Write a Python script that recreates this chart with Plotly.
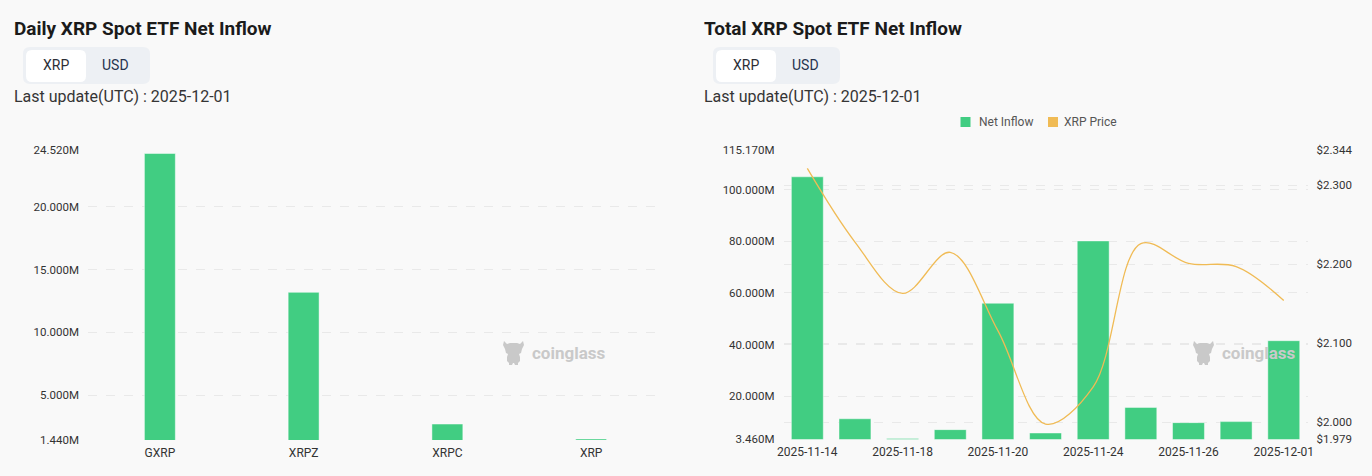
import plotly.graph_objects as go

W, H = 1372, 476

# ---------------- data ----------------
daily_etfs = ["GXRP", "XRPZ", "XRPC", "XRP"]
daily_inflow_m = [24.26, 13.19, 2.69, 1.50]
daily_ytick_vals = [1.44, 5, 10, 15, 20, 24.52]
daily_ytick_text = ["1.440M", "5.000M", "10.000M", "15.000M", "20.000M", "24.520M"]

total_dates = ["2025-11-14", "2025-11-17", "2025-11-18", "2025-11-19", "2025-11-20",
               "2025-11-21", "2025-11-24", "2025-11-25", "2025-11-26", "2025-11-28",
               "2025-12-01"]
total_inflow_m = [104.9, 11.3, 3.7, 7.1, 56.0, 5.8, 80.1, 15.7, 9.8, 10.2, 41.5]
xrp_price = [2.321, 2.228, 2.163, 2.215, 2.116, 1.998, 2.045, 2.226, 2.201, 2.197, 2.154]
total_xtick_dates = ["2025-11-14", "2025-11-18", "2025-11-20", "2025-11-24",
                     "2025-11-26", "2025-12-01"]
total_ytick_vals = [3.46, 20, 40, 60, 80, 100, 115.17]
total_ytick_text = ["3.460M", "20.000M", "40.000M", "60.000M", "80.000M", "100.000M", "115.170M"]
price_tick_vals = [1.979, 2.0, 2.1, 2.2, 2.3, 2.344]
price_tick_text = ["$1.979", "$2.000", "$2.100", "$2.200", "$2.300", "$2.344"]

titles = ["Daily XRP Spot ETF Net Inflow", "Total XRP Spot ETF Net Inflow"]
update_text = "Last update(UTC) : 2025-12-01"
unit_buttons = ["XRP", "USD"]
legend_names = ["Net Inflow", "XRP Price"]

# ---------------- style ----------------
BG = "#f9f9f9"
GREEN = "#41cd82"
GREEN_EDGE = "rgba(255,255,255,0.45)"
YELLOW = "#f0bb55"
GRID = "#e9e9e9"
TICK = "#333333"
FONT = "Roboto"


def px(x):
    return x / W


def py(y):
    return 1 - y / H


def rrect(x0, y0, x1, y1, r):
    """rounded rectangle path in paper coordinates from pixel coords"""
    pts = [
        f"M{px(x0 + r)},{py(y0)}",
        f"L{px(x1 - r)},{py(y0)}",
        f"Q{px(x1)},{py(y0)} {px(x1)},{py(y0 + r)}",
        f"L{px(x1)},{py(y1 - r)}",
        f"Q{px(x1)},{py(y1)} {px(x1 - r)},{py(y1)}",
        f"L{px(x0 + r)},{py(y1)}",
        f"Q{px(x0)},{py(y1)} {px(x0)},{py(y1 - r)}",
        f"L{px(x0)},{py(y0 + r)}",
        f"Q{px(x0)},{py(y0)} {px(x0 + r)},{py(y0)}",
        "Z",
    ]
    return " ".join(pts)


def mascot(x0, y0):
    rel = [(1, 0), (4, 3), (7, 2), (14, 2), (17, 3), (20, 0), (21, 4), (19, 8),
           (18, 12), (16, 13), (17, 16), (17, 20), (15, 22), (15, 24), (12, 24),
           (11, 22), (10, 22), (9, 24), (6, 24), (6, 22), (4, 20), (4, 16),
           (5, 13), (3, 12), (2, 8), (0, 4)]
    s = "M" + " L".join(f"{px(x0 + a)},{py(y0 + b)}" for a, b in rel) + " Z"
    return s


fig = go.Figure()

fig.add_trace(go.Bar(
    x=daily_etfs, y=daily_inflow_m, width=0.215,
    marker=dict(color=GREEN, line=dict(color=GREEN_EDGE, width=1)),
    xaxis="x", yaxis="y", showlegend=False,
))
fig.add_trace(go.Bar(
    x=total_dates, y=total_inflow_m, width=0.67,
    marker=dict(color=GREEN, line=dict(color=GREEN_EDGE, width=1)),
    xaxis="x2", yaxis="y2", showlegend=False,
))
fig.add_trace(go.Scatter(
    x=total_dates, y=xrp_price, mode="lines",
    line=dict(color=YELLOW, width=1.3, shape="spline", smoothing=1.0),
    xaxis="x2", yaxis="y3", showlegend=False,
))

tickfont = dict(family=FONT, size=11.5, color=TICK)
xtickfont = dict(family=FONT, size=12, color=TICK)

common_y = dict(showgrid=True, gridcolor=GRID, griddash="dash", gridwidth=1,
                zeroline=False, showline=False, ticks="", tickfont=tickfont,
                ticklabelstandoff=8, tickmode="array", automargin=False)
common_x = dict(type="category", showgrid=False, zeroline=False, showline=False,
                ticks="", tickfont=xtickfont, ticklabelstandoff=4, automargin=False)

fig.update_layout(
    width=W, height=H,
    margin=dict(l=0, r=0, t=0, b=0, autoexpand=False),
    paper_bgcolor=BG, plot_bgcolor=BG,
    font=dict(family=FONT, color=TICK),
    showlegend=False,
    xaxis=dict(domain=[px(88), px(663)], anchor="y", **common_x),
    yaxis=dict(domain=[py(440), py(150)], anchor="x",
               range=[1.44 - 0.02, 24.52 + 0.02],
               tickvals=daily_ytick_vals, ticktext=daily_ytick_text, **common_y),
    xaxis2=dict(domain=[px(783.5), px(1307.6)], anchor="y2",
                tickmode="array", tickvals=total_xtick_dates, ticktext=total_xtick_dates,
                **common_x),
    yaxis2=dict(domain=[py(439.3), py(150)], anchor="x2",
                range=[3.46 - 0.1, 115.17 + 0.1],
                tickvals=total_ytick_vals, ticktext=total_ytick_text, **common_y),
    yaxis3=dict(overlaying="y2", anchor="x2", side="right",
                range=[1.979 - 0.0003, 2.344 + 0.0003],
                tickvals=price_tick_vals, ticktext=price_tick_text, **common_y),
)

shapes = []
annotations = []

for i, off in enumerate([0, 690]):
    # title
    annotations.append(dict(
        x=px(12 + off), y=py(28), xref="paper", yref="paper",
        xanchor="left", yanchor="middle", showarrow=False,
        text=f"<b>{titles[i]}</b>",
        font=dict(family=FONT, size=19, color="#1b1b1b"),
    ))
    # unit toggle
    shapes.append(dict(type="path", xref="paper", yref="paper",
                       path=rrect(23 + off, 47, 150 + off, 84, 7),
                       fillcolor="#edf0f4", line=dict(width=0), layer="above"))
    shapes.append(dict(type="path", xref="paper", yref="paper",
                       path=rrect(26 + off, 50, 86 + off, 82, 6),
                       fillcolor="#ffffff", line=dict(width=0), layer="above"))
    annotations.append(dict(
        x=px(56 + off), y=py(65), xref="paper", yref="paper",
        xanchor="center", yanchor="middle", showarrow=False,
        text=unit_buttons[0], font=dict(family=FONT, size=14, color="#2c2f36"),
    ))
    annotations.append(dict(
        x=px(116 + off), y=py(65), xref="paper", yref="paper",
        xanchor="center", yanchor="middle", showarrow=False,
        text=unit_buttons[1], font=dict(family=FONT, size=14, color="#26344f"),
    ))
    # last update
    annotations.append(dict(
        x=px(12 + off), y=py(97), xref="paper", yref="paper",
        xanchor="left", yanchor="middle", showarrow=False,
        text=update_text, font=dict(family=FONT, size=16, color="#353535"),
    ))
    # watermark
    shapes.append(dict(type="path", xref="paper", yref="paper",
                       path=mascot(503 + off, 341), fillcolor="#c9c9c9",
                       line=dict(width=0), layer="above"))
    annotations.append(dict(
        x=px(530 + off), y=py(353), xref="paper", yref="paper",
        xanchor="left", yanchor="middle", showarrow=False,
        text="<b>coinglass</b>", font=dict(family=FONT, size=17, color="#c9c9c9"),
    ))

# manual legend for right chart
shapes.append(dict(type="rect", xref="paper", yref="paper",
                   x0=px(960.5), x1=px(970.5), y0=py(127), y1=py(117),
                   fillcolor=GREEN, line=dict(width=0)))
shapes.append(dict(type="rect", xref="paper", yref="paper",
                   x0=px(1048), x1=px(1058), y0=py(127), y1=py(117),
                   fillcolor=YELLOW, line=dict(width=0)))
annotations.append(dict(
    x=px(977), y=py(122), xref="paper", yref="paper",
    xanchor="left", yanchor="middle", showarrow=False,
    text=legend_names[0], font=dict(family=FONT, size=12, color="#555555"),
))
annotations.append(dict(
    x=px(1062), y=py(122), xref="paper", yref="paper",
    xanchor="left", yanchor="middle", showarrow=False,
    text=legend_names[1], font=dict(family=FONT, size=12, color="#555555"),
))

fig.update_layout(shapes=shapes, annotations=annotations)

fig.write_html("out.html", config={"displayModeBar": False},
               post_script="document.body.style.margin='0';document.body.style.overflow='hidden';")
